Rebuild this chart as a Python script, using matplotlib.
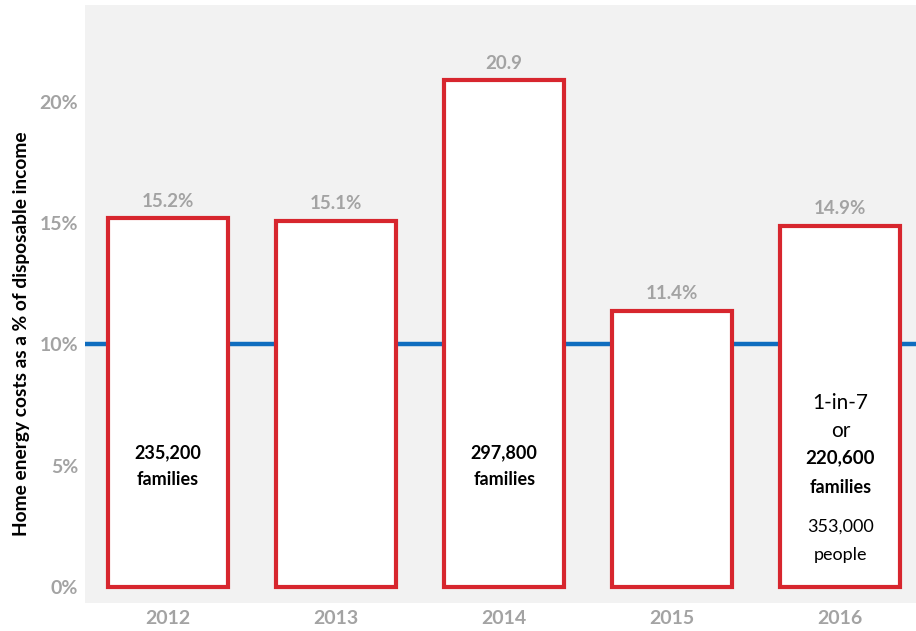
import matplotlib.pyplot as plt

# share of disposable income spent on home energy, by year
years = ["2012", "2013", "2014", "2015", "2016"]
share = [15.2, 15.1, 20.9, 11.4, 14.9]
value_labels = ["15.2%", "15.1%", "20.9", "11.4%", "14.9%"]
threshold = 10

family_notes = {0: "235,200\nfamilies", 2: "297,800\nfamilies"}

RED = "#d7262e"
BLUE = "#0f6dbf"
GREY = "#a3a3a3"

plt.rcParams['font.family'] = ['Lato', 'DejaVu Sans']

fig = plt.figure(figsize=(9.16, 6.31), dpi=100)
ax = fig.add_axes([85 / 916, 28 / 631, 1 - 85 / 916, 598 / 631])
ax.set_facecolor("#f2f2f2")

x = list(range(len(years)))
ax.axhline(threshold, color=BLUE, lw=3.2, zorder=1)
bars = ax.bar(x, share, width=0.714, color="white", edgecolor=RED,
              linewidth=3.0, zorder=2)

for xi, v, lab in zip(x, share, value_labels):
    ax.text(xi, v + 0.35, lab, ha="center", va="bottom", color=GREY,
            fontsize=13.5, fontweight="bold")

for i, note in family_notes.items():
    ax.text(x[i], 5.0, note, ha="center", va="center", color="black",
            fontsize=13, fontweight="bold", linespacing=1.7)

# 2016 breakdown
ax.text(x[4], 7.57, "1-in-7", ha="center", va="center", fontsize=15)
ax.text(x[4], 6.42, "or", ha="center", va="center", fontsize=15)
ax.text(x[4], 5.35, "220,600", ha="center", va="center", fontsize=13.5, fontweight="bold")
ax.text(x[4], 4.12, "families", ha="center", va="center", fontsize=13, fontweight="bold")
ax.text(x[4], 2.51, "353,000", ha="center", va="center", fontsize=13)
ax.text(x[4], 1.32, "people", ha="center", va="center", fontsize=13)

ax.set_xlim(-0.494, 4.45)
ax.set_ylim(-0.66, 24.0)
ax.set_xticks(x)
ax.set_xticklabels(years)
ax.set_yticks([0, 5, 10, 15, 20])
ax.set_yticklabels(["0%", "5%", "10%", "15%", "20%"])
ax.tick_params(length=0, labelsize=14, labelcolor=GREY, pad=5)
for lab in ax.get_xticklabels() + ax.get_yticklabels():
    lab.set_fontweight("bold")
for s in ax.spines.values():
    s.set_visible(False)

ax.set_ylabel("Home energy costs as a % of disposable income", fontsize=13.8,
              fontweight="bold")
ax.yaxis.set_label_coords(-0.066, 0.45)

fig.savefig("out.png", dpi=100)
